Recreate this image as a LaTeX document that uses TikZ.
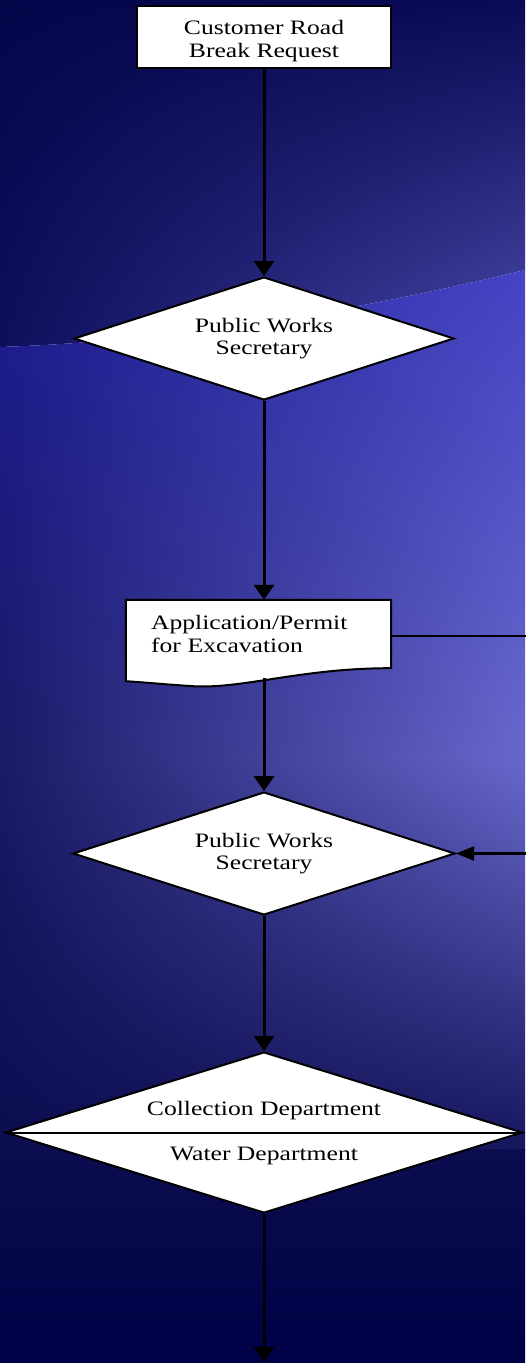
\documentclass[tikz,border=0pt]{standalone}
\usepackage{fontspec}
\setmainfont{Liberation Serif}[FakeStretch=1.25]
\usetikzlibrary{shapes.geometric,arrows.meta,backgrounds,shadings}

% Colours of the slide background
\definecolor{navytop}{HTML}{05054A}
\definecolor{navycorner}{HTML}{0A0A55}
\definecolor{navyleft}{HTML}{0E0E5C}
\definecolor{streak}{HTML}{4848A8}
\definecolor{bandleft}{HTML}{1C1C92}
\definecolor{bandright}{HTML}{4444C4}
\definecolor{midleft}{HTML}{1A1A66}
\definecolor{midright}{HTML}{6868CC}
\definecolor{lowleft}{HTML}{0C0C50}
\definecolor{lowright}{HTML}{16165E}
\definecolor{navybottom}{HTML}{000046}

\newcommand{\flowfont}{\fontsize{20.5}{22.5}\selectfont}

\tikzset{
    procbox/.style={draw=black, line width=2pt, fill=white, align=center,
        font=\flowfont, inner sep=0pt},
    decision/.style={diamond, aspect=3, draw=black, line width=2pt, fill=white,
        align=center, font=\flowfont, inner sep=0pt},
    flow/.style={line width=3pt, -{Triangle[length=15pt,width=20pt]}},
    loopback/.style={line width=2.2pt, -{Triangle[length=18pt,width=14pt]}}
}

\begin{document}
\begin{tikzpicture}[x=1pt, y=-1pt]

    \useasboundingbox (0,0) rectangle (525,1363);

    % Request box at the top
    \node[procbox, minimum width=254pt, minimum height=62pt] (request) at (264,37)
        {\rule{0pt}{22pt}Customer Road\\Break Request};

    % First secretary decision
    \node[decision, minimum width=380pt, minimum height=123pt] (secretaryA) at (264,338.5)
        {Public Works\\Secretary};

    % Permit document (outline drawn behind, below)
    \node[align=left, font=\flowfont, text width=215pt, inner xsep=25pt, inner ysep=0pt,
        minimum width=265pt, minimum height=68pt] (permit) at (258.5,634)
        {Application/Permit\\for Excavation};

    % Second secretary decision
    \node[decision, minimum width=382pt, minimum height=123pt] (secretaryB) at (264,853.5)
        {Public Works\\Secretary};

    % Departments decision, split in two
    \node[decision, minimum width=517pt, minimum height=161pt] (depts) at (264,1132.5) {};
    \draw[line width=2pt] (depts.west) -- (depts.east);
    \node[font=\flowfont, anchor=base] (collection) at ([yshift=17pt]depts.center)
        {Collection Department};
    \node[font=\flowfont, anchor=base] (water) at ([yshift=-28pt]depts.center)
        {Water Department};

    % Loose end at the bottom edge
    \coordinate (next) at (264,1362);

    % Connectors
    \draw[flow] (request.south) -- (secretaryA.north);
    \draw[flow] (secretaryA.south) -- (permit.north -| secretaryA.south);
    \draw[flow] ([yshift=-10pt]secretaryB.north |- permit.south) -- (secretaryB.north);
    \draw[flow] (secretaryB.south) -- (depts.north);
    \draw[flow] (depts.south) -- (next);
    \draw[loopback] ([yshift=-2pt]permit.east) -- (560,636) |- (secretaryB.east);

    \begin{pgfonlayer}{background}
        % Slide background above the curved band
        \shade[upper left=navytop, upper right=navycorner, lower left=navyleft, lower right=streak]
            (0,0) -- (525,0) -- (525,270) .. controls (380,305) and (200,340) .. (0,347) -- cycle;
        % Bright band below the curve
        \shade[upper left=bandleft, upper right=bandright, lower left=midleft, lower right=midright]
            (0,347) .. controls (200,340) and (380,305) .. (525,270) -- (525,760) -- (0,760) -- cycle;
        % Lower part, fading back to navy
        \shade[upper left=midleft, upper right=midright, lower left=lowleft, lower right=lowright]
            (0,759) rectangle (525,1150);
        \shade[top color=lowleft, bottom color=navybottom] (0,1149) rectangle (525,1363);

        % Document outline with wavy bottom
        \draw[line width=2pt, fill=white] (permit.south east) -- (permit.north east)
            -- (permit.north west) -- ([yshift=-13pt]permit.south west)
            .. controls (140,682) and (160,684) .. (190,686)
            .. controls (240,690) and (300,668) .. (permit.south east) -- cycle;
    \end{pgfonlayer}

\end{tikzpicture}
\end{document}
